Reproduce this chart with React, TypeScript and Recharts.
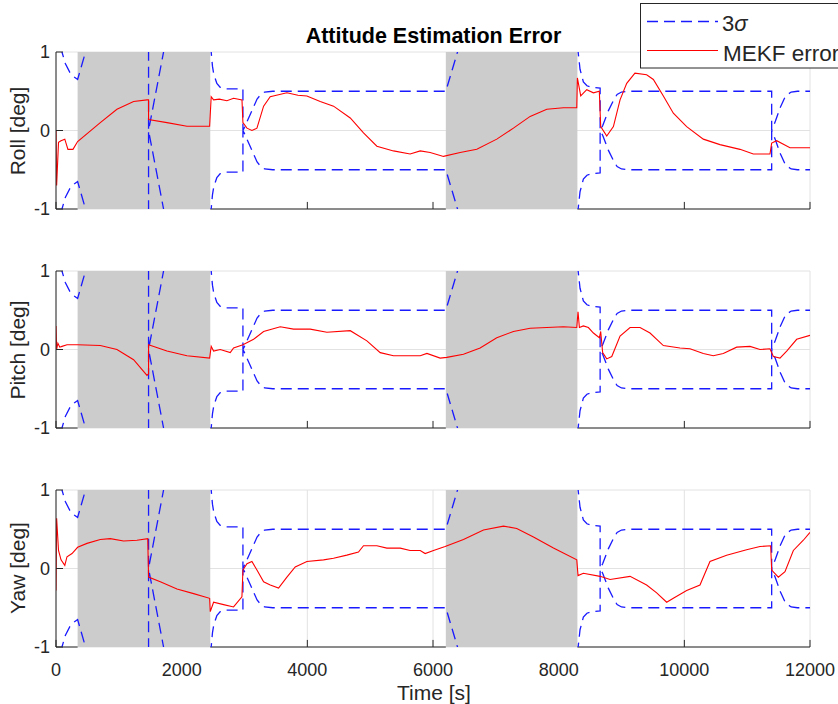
import React from 'react';
import { LineChart, Line, XAxis, YAxis, CartesianGrid, ReferenceArea, ReferenceLine } from 'recharts';

// time ticks [s] and angle ticks [deg]
const X_TICKS = [0, 2000, 4000, 6000, 8000, 10000, 12000];
const Y_TICKS = [-1, 0, 1];

// periods without measurements (shaded)
const GAP_1 = [344, 2455];
const GAP_2 = [6204, 8298];

// 3-sigma bound [t, value], same for all axes; drawn as +/- value
const SIGMA_3: [number, number][] = [
  [0, 1.5], [60, 1.15], [95, 1.0], [150, 0.85], [220, 0.74], [290, 0.68], [344, 0.65],
  [470, 1.0], [700, 1.7], [1473, 4.0], [1473, 0.0], [1712, 1.0], [2100, 2.6], [2455, 4.0],
  [2470, 1.0], [2490, 0.82], [2510, 0.72], [2560, 0.6], [2614, 0.55], [2700, 0.53], [2975, 0.53],
  [2975, 0.0], [3000, 0.04], [3100, 0.22], [3200, 0.4], [3260, 0.46], [3320, 0.49], [3450, 0.5],
  [6204, 0.5], [6390, 1.0], [7000, 2.6], [8298, 5.0], [8310, 1.0], [8340, 0.78], [8393, 0.62],
  [8450, 0.57], [8530, 0.55], [8660, 0.54], [8660, 0.0], [8700, 0.06], [8790, 0.25], [8870, 0.38],
  [8930, 0.46], [9000, 0.49], [9100, 0.5], [11390, 0.5], [11390, 0.0], [11450, 0.12],
  [11530, 0.3], [11610, 0.44], [11700, 0.49], [11800, 0.5], [12000, 0.5],
];

const ROLL_ERR: [number, number][] = [
  [0, 0], [10, -0.7], [40, -0.15], [80, -0.13], [140, -0.11], [190, -0.24], [270, -0.24],
  [344, -0.14], [705, 0.1], [970, 0.27], [1235, 0.37], [1448, 0.39], [1473, 0.39], [1473, 0.14],
  [1766, 0.1], [2084, 0.055], [2445, 0.055], [2470, 0.43], [2508, 0.39], [2600, 0.4], [2720, 0.38],
  [2826, 0.41], [2960, 0.39], [2975, 0.1], [3039, 0.03], [3118, 0.0], [3198, 0.03], [3304, 0.31],
  [3409, 0.43], [3675, 0.48], [3850, 0.45], [3993, 0.44], [4205, 0.37], [4417, 0.31], [4683, 0.16],
  [4894, -0.03], [5107, -0.2], [5371, -0.26], [5636, -0.3], [5797, -0.26], [5955, -0.28],
  [6167, -0.33], [6432, -0.28], [6697, -0.24], [7015, -0.11], [7280, 0.03], [7546, 0.18],
  [7811, 0.27], [8076, 0.29], [8288, 0.29], [8298, 0.67], [8351, 0.44], [8447, 0.52], [8553, 0.48],
  [8647, 0.5], [8669, 0.05], [8765, -0.07], [8871, 0.05], [8977, 0.39], [9083, 0.6], [9214, 0.73],
  [9400, 0.71], [9507, 0.65], [9666, 0.44], [9825, 0.22], [10037, 0.05], [10302, -0.11],
  [10567, -0.18], [10886, -0.24], [11098, -0.3], [11363, -0.3], [11390, -0.16], [11470, -0.13],
  [11681, -0.22], [12000, -0.22],
];

const PITCH_ERR: [number, number][] = [
  [0, 0.3], [10, 0.0], [30, 0.08], [60, 0.03], [95, 0.04], [175, 0.06], [344, 0.06], [705, 0.05],
  [970, 0.0], [1235, -0.13], [1448, -0.33], [1473, -0.31], [1473, 0.06], [1766, -0.02],
  [2084, -0.08], [2445, -0.11], [2470, 0.04], [2508, -0.02], [2614, 0.0], [2773, -0.04],
  [2826, 0.02], [2975, 0.06], [3145, 0.13], [3304, 0.23], [3569, 0.29], [3781, 0.26], [4046, 0.26],
  [4311, 0.22], [4683, 0.24], [4948, 0.11], [5160, -0.04], [5371, -0.08], [5636, -0.08],
  [5797, -0.08], [5903, -0.05], [6114, -0.11], [6220, -0.1], [6485, -0.06], [6750, 0.02],
  [7015, 0.15], [7280, 0.23], [7546, 0.27], [7811, 0.28], [8076, 0.29], [8288, 0.28], [8308, 0.48],
  [8330, 0.28], [8393, 0.3], [8473, 0.28], [8553, 0.21], [8648, 0.15], [8669, 0.23], [8700, -0.04],
  [8765, -0.12], [8845, -0.09], [8977, 0.17], [9136, 0.28], [9295, 0.28], [9454, 0.21],
  [9666, 0.05], [9931, 0.02], [10090, 0.01], [10302, -0.05], [10461, -0.08], [10620, -0.05],
  [10833, 0.03], [11045, 0.04], [11204, 0.0], [11363, 0.01], [11417, -0.09], [11522, -0.11],
  [11629, -0.02], [11788, 0.13], [12000, 0.18],
];

const YAW_ERR: [number, number][] = [
  [0, -0.28], [10, 0.64], [40, 0.23], [80, 0.11], [140, 0.04], [175, 0.15], [255, 0.19],
  [344, 0.27], [493, 0.32], [705, 0.37], [864, 0.38], [1076, 0.35], [1288, 0.36], [1460, 0.38],
  [1473, -0.11], [1660, -0.17], [1925, -0.26], [2190, -0.32], [2445, -0.38], [2455, -0.55],
  [2508, -0.43], [2667, -0.46], [2826, -0.49], [2959, -0.36], [2975, -0.02], [3039, 0.06],
  [3118, 0.09], [3198, -0.02], [3304, -0.17], [3410, -0.21], [3542, -0.25], [3675, -0.11],
  [3807, 0.02], [3993, 0.09], [4258, 0.11], [4417, 0.13], [4629, 0.17], [4814, 0.21], [4894, 0.29],
  [5107, 0.29], [5266, 0.26], [5478, 0.26], [5636, 0.23], [5797, 0.23], [5875, 0.19], [6008, 0.23],
  [6193, 0.28], [6485, 0.37], [6803, 0.49], [7121, 0.54], [7333, 0.51], [7599, 0.4], [7917, 0.26],
  [8288, 0.11], [8308, -0.09], [8393, -0.06], [8659, -0.1], [8818, -0.14], [9136, -0.1],
  [9400, -0.21], [9560, -0.31], [9719, -0.43], [9825, -0.38], [10037, -0.28], [10249, -0.21],
  [10408, 0.09], [10673, 0.17], [10991, 0.24], [11204, 0.28], [11374, 0.29], [11390, -0.02],
  [11496, -0.11], [11602, -0.04], [11735, 0.23], [11894, 0.36], [12000, 0.46],
];

const AXIS_COLOR = '#262626';
const FONT = 'Arial, "Liberation Sans", Helvetica, sans-serif';

const toPoints = (arr: [number, number][], sign = 1) => arr.map(([t, v]) => ({ t, v: sign * v }));

const upper = toPoints(SIGMA_3);
const lower = toPoints(SIGMA_3, -1);

// the shaded patches sit on top of the time axis, so the axis is drawn only between them
const axisSpans = [[0, GAP_1[0]], [GAP_1[1], GAP_2[0]], [GAP_2[1], 12000]];
const visibleTicks = X_TICKS.filter(
  (t) => !((t > GAP_1[0] && t < GAP_1[1]) || (t > GAP_2[0] && t < GAP_2[1]))
);

interface PanelProps {
  top: number;
  err: [number, number][];
  showTimeLabels: boolean;
}

const Panel = ({ top, err, showTimeLabels }: PanelProps) => (
  <div style={{ position: 'absolute', left: 0, top }}>
    <LineChart width={838} height={200} margin={{ top: 10, right: 28, bottom: 3, left: 0 }}>
      <CartesianGrid stroke="#e2e2e2" />
      <XAxis
        type="number"
        dataKey="t"
        domain={[0, 12000]}
        ticks={X_TICKS}
        interval={0}
        allowDataOverflow
        height={30}
        axisLine={false}
        tickLine={false}
        tickSize={-7}
        tickMargin={23}
        tick={showTimeLabels ? { fill: AXIS_COLOR, fontSize: 18, fontFamily: FONT } : false}
      />
      <YAxis
        type="number"
        domain={[-1, 1]}
        ticks={Y_TICKS}
        interval={0}
        allowDataOverflow
        width={56}
        tickSize={-7}
        tickMargin={13}
        stroke={AXIS_COLOR}
        tick={{ fill: AXIS_COLOR, fontSize: 18, fontFamily: FONT }}
      />
      <ReferenceArea x1={GAP_1[0]} x2={GAP_1[1]} fill="#cccccc" fillOpacity={1} stroke="none" />
      <ReferenceArea x1={GAP_2[0]} x2={GAP_2[1]} fill="#cccccc" fillOpacity={1} stroke="none" />
      {axisSpans.map(([a, b]) => (
        <ReferenceLine key={`ax${a}`} segment={[{ x: a, y: -1 }, { x: b, y: -1 }]} stroke={AXIS_COLOR} />
      ))}
      {visibleTicks.map((t) => (
        <ReferenceLine key={`tk${t}`} segment={[{ x: t, y: -1 }, { x: t, y: -0.91 }]} stroke={AXIS_COLOR} />
      ))}
      <Line data={upper} dataKey="v" type="linear" stroke="#1a1aff" strokeWidth={1.3}
        strokeDasharray="11 6" dot={false} activeDot={false} isAnimationActive={false} />
      <Line data={lower} dataKey="v" type="linear" stroke="#1a1aff" strokeWidth={1.3}
        strokeDasharray="11 6" dot={false} activeDot={false} isAnimationActive={false} />
      <Line data={toPoints(err)} dataKey="v" type="linear" stroke="#ff0000" strokeWidth={1.1}
        dot={false} activeDot={false} isAnimationActive={false} />
    </LineChart>
  </div>
);

const Overlay = () => (
  <svg width={838} height={704} style={{ position: 'absolute', left: 0, top: 0, pointerEvents: 'none' }}
    fontFamily={FONT}>
    <text x={433.5} y={42.5} textAnchor="middle" fontSize={21.5} fontWeight="bold" fill="#000">
      Attitude Estimation Error
    </text>
    {[
      { label: 'Roll [deg]', cy: 131 },
      { label: 'Pitch [deg]', cy: 350 },
      { label: 'Yaw [deg]', cy: 568 },
    ].map((d) => (
      <text key={d.label} x={25} y={d.cy} textAnchor="middle" fontSize={21} fill={AXIS_COLOR}
        transform={`rotate(-90 25 ${d.cy})`}>
        {d.label}
      </text>
    ))}
    <text x={434} y={700} textAnchor="middle" fontSize={21} fill={AXIS_COLOR}>Time [s]</text>
    <rect x={640.5} y={3.5} width={220} height={64.5} fill="#fff" stroke={AXIS_COLOR} strokeWidth={1} />
    <line x1={647} y1={21.5} x2={718} y2={21.5} stroke="#1a1aff" strokeWidth={1.3} strokeDasharray="11 6" />
    <text x={722} y={30.5} fontSize={22} fill={AXIS_COLOR}>
      3<tspan fontStyle="italic">σ</tspan>
    </text>
    <line x1={647} y1={50.5} x2={718} y2={50.5} stroke="#ff0000" strokeWidth={1.1} />
    <text x={723} y={60.5} fontSize={22.5} fill={AXIS_COLOR}>MEKF error</text>
  </svg>
);

export default function App() {
  return (
    <div style={{ position: 'absolute', left: 0, top: 0, width: 838, height: 704, background: '#fff', overflow: 'hidden', fontFamily: FONT }}>
      <Panel top={42} err={ROLL_ERR} showTimeLabels={false} />
      <Panel top={261} err={PITCH_ERR} showTimeLabels={false} />
      <Panel top={480} err={YAW_ERR} showTimeLabels />
      <Overlay />
    </div>
  );
}
